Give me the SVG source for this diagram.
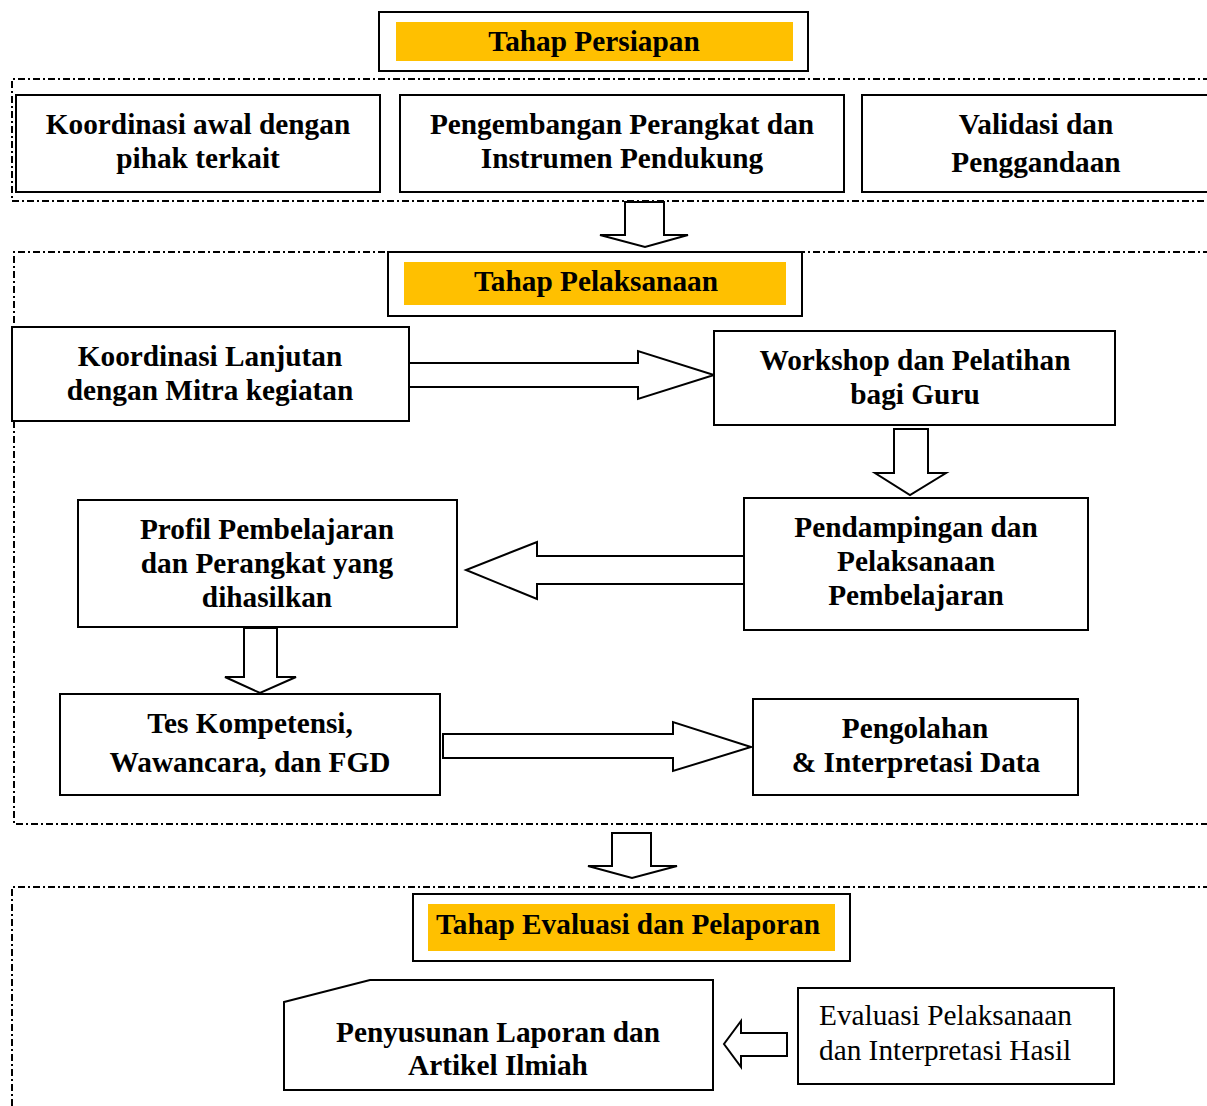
<svg xmlns="http://www.w3.org/2000/svg" width="1207" height="1106" viewBox="0 0 1207 1106">
<style>
.bg{fill:#fff}
.region{fill:none;stroke:#000;stroke-width:2;stroke-dasharray:7 3 2 3}
.box{fill:#fff;stroke:#000;stroke-width:2}
.hl{fill:#FFC000}
.arr{fill:#fff;stroke:#000;stroke-width:2;stroke-linejoin:miter}
text{font-family:"Liberation Serif","Times New Roman",serif;font-size:29.3px;fill:#000}
.b{font-weight:bold;text-anchor:middle}
.r{font-weight:normal}
</style>
<rect class="bg" x="0" y="0" width="1207" height="1106"/>
<g id="regions">
<path class="region" d="M1210,79 H12 V201 H1210"/>
<path class="region" d="M1210,252 H14 V824 H1210"/>
<path class="region" d="M1210,887 H12 V1110"/>
</g>
<g id="connectors">
<polygon class="arr" points="625,202 664,202 664,235 688,235 645,247 600,235 625,235"/>
<polygon class="arr" points="409,363 638,363 638,351 714,375 638,399 638,387 409,387"/>
<polygon class="arr" points="894,429 928,429 928,473 946,473 910,495 875,473 894,473"/>
<polygon class="arr" points="744,556 537,556 537,542 466,570 537,599 537,584 744,584"/>
<polygon class="arr" points="244,628 277,628 277,677 296,677 260,693 225,677 244,677"/>
<polygon class="arr" points="443,734 673,734 673,722 751,747 673,771 673,758 443,758"/>
<polygon class="arr" points="612,833 651,833 651,866 677,866 632,878 588,866 612,866"/>
<polygon class="arr" points="787,1033 741,1033 741,1021 724,1044 741,1067 741,1056 787,1056"/>
</g>
<g id="tahap-persiapan">
<rect class="box" x="379" y="12" width="429" height="59"/>
<rect class="hl" x="396" y="22" width="397" height="39"/>
<text class="b" x="594" y="51">Tahap Persiapan</text>
</g>
<g id="koordinasi-awal">
<rect class="box" x="16" y="95" width="364" height="97"/>
<text class="b" x="198" y="134">Koordinasi awal dengan</text>
<text class="b" x="198" y="168">pihak terkait</text>
</g>
<g id="pengembangan">
<rect class="box" x="400" y="95" width="444" height="97"/>
<text class="b" x="622" y="134">Pengembangan Perangkat dan</text>
<text class="b" x="622" y="168">Instrumen Pendukung</text>
</g>
<g id="validasi">
<rect class="box" x="862" y="95" width="360" height="97"/>
<text class="b" x="1036" y="134">Validasi dan</text>
<text class="b" x="1036" y="172">Penggandaan</text>
</g>
<g id="tahap-pelaksanaan">
<rect class="box" x="388" y="252" width="414" height="64"/>
<rect class="hl" x="404" y="262" width="382" height="43"/>
<text class="b" x="596" y="291">Tahap Pelaksanaan</text>
</g>
<g id="koordinasi-lanjutan">
<rect class="box" x="12" y="327" width="397" height="94"/>
<text class="b" x="210" y="366">Koordinasi Lanjutan</text>
<text class="b" x="210" y="400">dengan Mitra kegiatan</text>
</g>
<g id="workshop">
<rect class="box" x="714" y="331" width="401" height="94"/>
<text class="b" x="915" y="370">Workshop dan Pelatihan</text>
<text class="b" x="915" y="404">bagi Guru</text>
</g>
<g id="pendampingan">
<rect class="box" x="744" y="498" width="344" height="132"/>
<text class="b" x="916" y="537">Pendampingan dan</text>
<text class="b" x="916" y="571">Pelaksanaan</text>
<text class="b" x="916" y="605">Pembelajaran</text>
</g>
<g id="profil">
<rect class="box" x="78" y="500" width="379" height="127"/>
<text class="b" x="267" y="539">Profil Pembelajaran</text>
<text class="b" x="267" y="573">dan Perangkat yang</text>
<text class="b" x="267" y="607">dihasilkan</text>
</g>
<g id="tes">
<rect class="box" x="60" y="694" width="380" height="101"/>
<text class="b" x="250" y="733">Tes Kompetensi,</text>
<text class="b" x="250" y="772">Wawancara, dan FGD</text>
</g>
<g id="pengolahan">
<rect class="box" x="753" y="699" width="325" height="96"/>
<text class="b" x="915" y="738">Pengolahan</text>
<text class="b" x="916" y="772">&amp; Interpretasi Data</text>
</g>
<g id="tahap-evaluasi">
<rect class="box" x="413" y="894" width="437" height="67"/>
<rect class="hl" x="428" y="904" width="407" height="47"/>
<text class="b" x="628" y="934">Tahap Evaluasi dan Pelaporan</text>
</g>
<g id="penyusunan">
<polygon class="box" points="284,1002 370,980 713,980 713,1090 284,1090"/>
<text class="b" x="498" y="1042">Penyusunan Laporan dan</text>
<text class="b" x="498" y="1075">Artikel Ilmiah</text>
</g>
<g id="evaluasi">
<rect class="box" x="798" y="988" width="316" height="96"/>
<text class="r" x="819" y="1025">Evaluasi Pelaksanaan</text>
<text class="r" x="819" y="1060">dan Interpretasi Hasil</text>
</g>
</svg>
